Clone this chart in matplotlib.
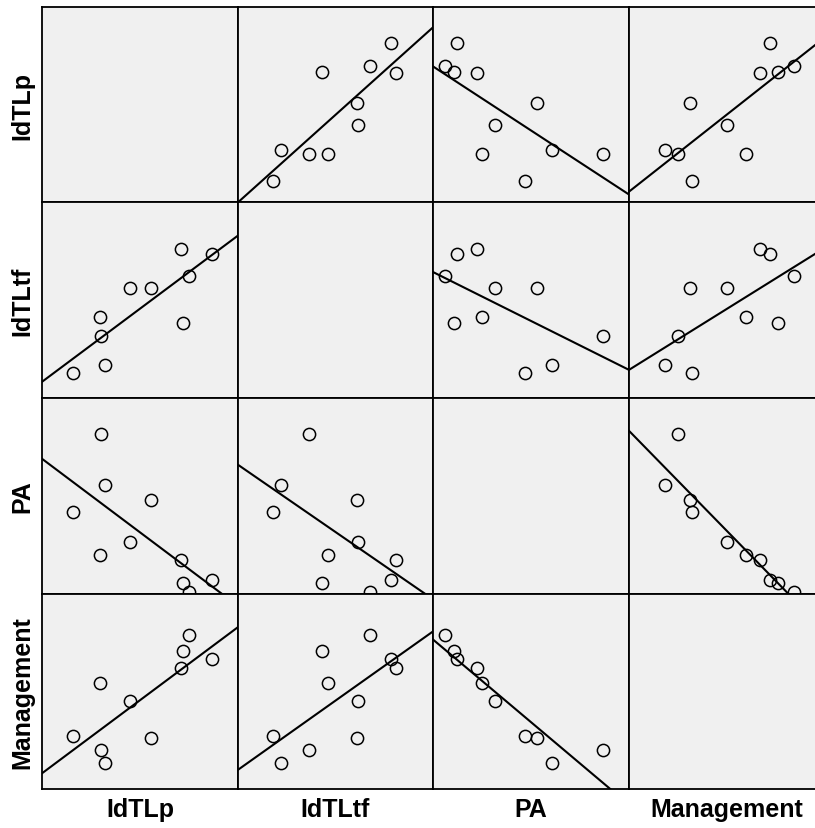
import numpy as np
import matplotlib
matplotlib.use('Agg')
import matplotlib.pyplot as plt

# scores on a 0-100 scale (share of the axis range), 10 cases
names = ['IdTLp', 'IdTLtf', 'PA', 'Management']
idtlp = [15.7, 31.9, 29.6, 29.9, 44.8, 55.7, 71.0, 72.0, 74.8, 86.8]
idtltf = [18.0, 21.8, 46.4, 36.6, 61.4, 61.2, 80.9, 43.2, 67.6, 78.7]
pa = [47.1, 60.9, 25.0, 86.7, 31.8, 53.2, 22.3, 10.9, 6.1, 12.4]
management = [32.3, 18.2, 59.5, 25.2, 50.0, 31.1, 67.0, 76.0, 84.3, 71.9]

data = [np.array(idtlp), np.array(idtltf), np.array(pa), np.array(management)]

W, H = 815, 829
col_left = [42, 238, 433, 629]
col_w = [196, 195, 196, 196]
row_top = [8, 203, 399, 595]
row_h = [195, 196, 196, 195]

fig = plt.figure(figsize=(W / 100, H / 100), dpi=100)
fig.patch.set_facecolor('white')

xlim = (0, 100)
ylim = (5.1, 105.1)

for r in range(4):
    for c in range(4):
        rect = [col_left[c] / W, 1 - (row_top[r] + row_h[r]) / H, col_w[c] / W, row_h[r] / H]
        ax = fig.add_axes(rect)
        ax.set_facecolor('#f0f0f0')
        ax.set_xlim(*xlim)
        ax.set_ylim(*ylim)
        ax.set_xticks([])
        ax.set_yticks([])
        for s in ax.spines.values():
            s.set_linewidth(1.3)
            s.set_color('black')
        if r == c:
            continue
        x = data[c]
        y = data[r]
        ax.plot(x, y, 'o', mfc='none', mec='black', ms=8.8, mew=1.1)
        k, b = np.polyfit(x, y, 1)
        xs = np.array(xlim)
        ax.plot(xs, k * xs + b, color='black', lw=1.5)

font = dict(family=['Liberation Sans', 'DejaVu Sans'], fontweight='bold', fontsize=18)
for i, n in enumerate(names):
    fig.text((col_left[i] + col_w[i] / 2) / W, 1 - 810 / H, n, ha='center', va='center', **font)
    fig.text(22 / W, 1 - (row_top[i] + row_h[i] / 2) / H, n, ha='center', va='center',
             rotation=90, **font)

fig.savefig('out.png', dpi=100)
